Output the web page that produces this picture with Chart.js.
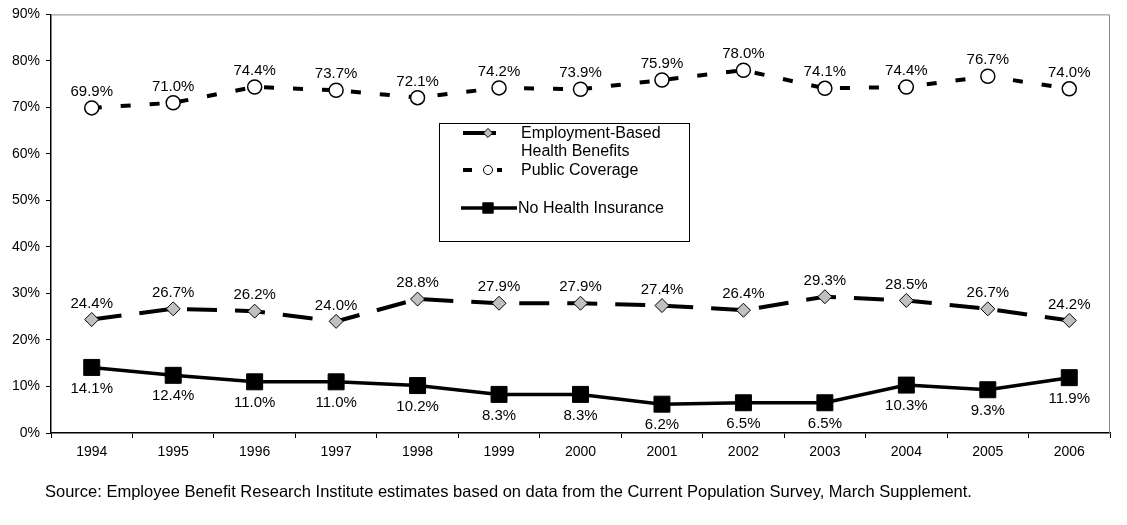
<!DOCTYPE html>
<html lang="en">
<head>
  <meta charset="UTF-8">
  <title>Health Coverage 1994-2006</title>
  <script src="https://cdn.jsdelivr.net/npm/chart.js"></script>
  <style>
    body { margin: 0; background: #fff; }
    #wrap { position: relative; width: 1127px; height: 525px; }
  </style>
</head>
<body>
  <div id="wrap"><canvas id="chart" width="1127" height="525"></canvas></div>

  <script>
    // Data
    const years = ['1994', '1995', '1996', '1997', '1998', '1999', '2000', '2001', '2002', '2003', '2004', '2005', '2006'];
    const employmentBased = [24.4, 26.7, 26.2, 24.0, 28.8, 27.9, 27.9, 27.4, 26.4, 29.3, 28.5, 26.7, 24.2];
    const publicCoverage = [69.9, 71.0, 74.4, 73.7, 72.1, 74.2, 73.9, 75.9, 78.0, 74.1, 74.4, 76.7, 74.0];
    const noInsurance = [14.1, 12.4, 11.0, 11.0, 10.2, 8.3, 8.3, 6.2, 6.5, 6.5, 10.3, 9.3, 11.9];
    const sourceNote = 'Source: Employee Benefit Research Institute estimates based on data from the Current Population Survey, March Supplement.';

    const FONT = 'Arial, "Liberation Sans", sans-serif';

    // value labels next to each point
    const pointLabels = {
      id: 'pointLabels',
      afterDatasetsDraw(chart) {
        const ctx = chart.ctx;
        ctx.save();
        ctx.font = '15px ' + FONT;
        ctx.fillStyle = '#000';
        ctx.textAlign = 'center';
        ctx.textBaseline = 'middle';
        chart.data.datasets.forEach((ds, i) => {
          chart.getDatasetMeta(i).data.forEach((pt, j) => {
            ctx.fillText(ds.data[j].toFixed(1) + '%', pt.x, pt.y + ds.labelOffset);
          });
        });
        ctx.restore();
      }
    };

    // gray top/right frame, legend box, source line
    const extras = {
      id: 'extras',
      beforeDatasetsDraw(chart) {
        const { ctx, chartArea: a } = chart;
        ctx.save();
        ctx.strokeStyle = '#888';
        ctx.lineWidth = 1;
        ctx.beginPath();
        ctx.moveTo(a.left, a.top + 0.5);
        ctx.lineTo(a.right - 0.5, a.top + 0.5);
        ctx.lineTo(a.right - 0.5, a.bottom);
        ctx.stroke();
        ctx.restore();
      },
      afterDraw(chart) {
        const ctx = chart.ctx;
        ctx.save();
        // legend
        ctx.fillStyle = '#fff';
        ctx.fillRect(439, 123, 250, 118);
        ctx.strokeStyle = '#000';
        ctx.lineWidth = 1;
        ctx.strokeRect(439.5, 123.5, 250, 118);
        const rows = [
          { ds: 0, y: 133, segs: [[463, 496]], text: ['Employment-Based', 'Health Benefits'], tx: 521 },
          { ds: 1, y: 170, segs: [[463, 472], [497, 502]], text: ['Public Coverage'], tx: 521 },
          { ds: 2, y: 208, segs: [[461, 517]], text: ['No Health Insurance'], tx: 518 }
        ];
        rows.forEach(r => {
          const ds = chart.data.datasets[r.ds];
          ctx.strokeStyle = '#000';
          ctx.lineWidth = ds.borderWidth;
          r.segs.forEach(s => {
            ctx.beginPath();
            ctx.moveTo(s[0], r.y);
            ctx.lineTo(s[1], r.y);
            ctx.stroke();
          });
          ctx.fillStyle = ds.pointBackgroundColor;
          ctx.lineWidth = 1;
          Chart.helpers.drawPoint(ctx, {
            pointStyle: ds.pointStyle,
            radius: ds.pointRadius * 0.65,
            borderWidth: 1
          }, 488, r.y);
          ctx.fillStyle = '#000';
          ctx.font = '16px ' + FONT;
          ctx.textAlign = 'left';
          ctx.textBaseline = 'middle';
          r.text.forEach((t, k) => ctx.fillText(t, r.tx, r.y + 1 + k * 18));
        });
        // source note
        ctx.font = '16.5px ' + FONT;
        ctx.fillStyle = '#000';
        ctx.textAlign = 'left';
        ctx.textBaseline = 'middle';
        ctx.fillText(sourceNote, 45, 492);
        ctx.restore();
      }
    };

    new Chart(document.getElementById('chart'), {
      type: 'line',
      data: {
        labels: years,
        datasets: [
          {
            label: 'Employment-Based Health Benefits',
            data: employmentBased,
            borderColor: '#000',
            borderWidth: 4,
            borderDash: [30, 18],
            pointStyle: 'rectRot',
            pointRadius: 7,
            pointBackgroundColor: '#c0c0c0',
            pointBorderColor: '#000',
            pointBorderWidth: 1,
            labelOffset: -16
          },
          {
            label: 'Public Coverage',
            data: publicCoverage,
            borderColor: '#000',
            borderWidth: 4,
            borderDash: [10, 19],
            pointStyle: 'circle',
            pointRadius: 7,
            pointBackgroundColor: '#fff',
            pointBorderColor: '#000',
            pointBorderWidth: 1.5,
            labelOffset: -16
          },
          {
            label: 'No Health Insurance',
            data: noInsurance,
            borderColor: '#000',
            borderWidth: 3.5,
            pointStyle: 'rect',
            pointRadius: 11.3,
            pointBackgroundColor: '#000',
            pointBorderColor: '#000',
            pointBorderWidth: 1,
            labelOffset: 21
          }
        ]
      },
      options: {
        responsive: false,
        animation: false,
        layout: { padding: { left: 0, right: 17, top: 11, bottom: 0 } },
        plugins: {
          legend: { display: false },
          tooltip: { enabled: false }
        },
        scales: {
          x: {
            offset: true,
            grid: { offset: true, drawOnChartArea: false, drawTicks: true, tickLength: 5, color: '#000' },
            border: { color: '#000', width: 1.5 },
            ticks: { color: '#000', font: { family: FONT, size: 14 }, padding: 6, maxRotation: 0 },
            afterFit(s) { s.height = 92; }
          },
          y: {
            min: 0,
            max: 90,
            grid: { drawOnChartArea: false, drawTicks: true, tickLength: 5, color: '#000' },
            border: { color: '#000', width: 1.5 },
            ticks: {
              stepSize: 10,
              color: '#000',
              font: { family: FONT, size: 14 },
              padding: 6,
              callback: v => v + '%'
            },
            afterFit(s) { s.width = 51; }
          }
        }
      },
      plugins: [pointLabels, extras]
    });
  </script>
</body>
</html>
